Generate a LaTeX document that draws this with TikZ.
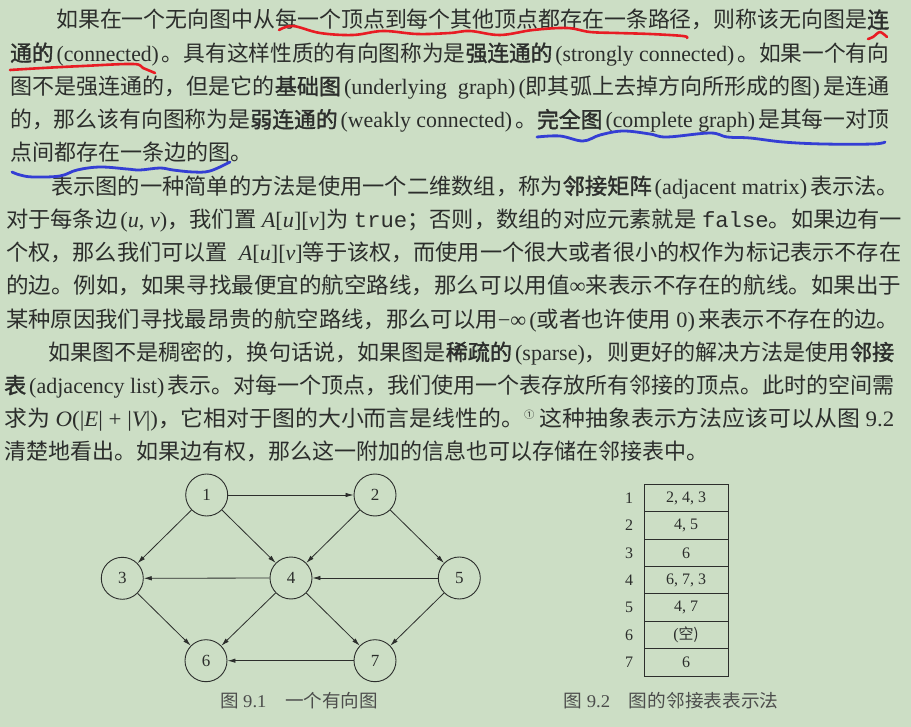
\documentclass[tikz,border=0pt]{standalone}
\usepackage{fontspec}
\usepackage{graphicx}
\usetikzlibrary{arrows.meta}
\setmainfont{Noto Sans CJK SC}
\newfontfamily\cjkbold{Noto Sans CJK SC}[FakeBold=1.6]
\newfontfamily\lat{Liberation Serif}
\newfontfamily\mono{Liberation Mono}
\definecolor{bg}{RGB}{204,222,197}
\definecolor{ink}{RGB}{44,46,44}
\definecolor{penred}{RGB}{232,28,36}
\definecolor{penblue}{RGB}{52,62,212}
\newcommand\La[1]{{\lat #1}}
\newcommand\Li[1]{{\lat\itshape #1}}
\newcommand\Bf[1]{{\cjkbold #1}}
\newcommand\Mo[1]{{\mono #1}}
\newcommand\gp{\hspace{3pt}}
\tikzset{
  txt/.style={anchor=base west, inner sep=0pt, font=\fontsize{22}{26}\selectfont, text=ink},
  vtx/.style={circle, draw=ink, line width=0.9pt, minimum size=42pt, inner sep=0pt, font=\lat\fontsize{17}{17}\selectfont, text=ink},
  edge/.style={-{Latex[length=8pt,width=4.5pt]}, line width=0.8pt, draw=ink},
  cell/.style={rectangle, draw=ink, line width=0.9pt, minimum width=84pt, minimum height=27.4pt, inner sep=0pt, font=\lat\fontsize{16}{16}\selectfont, text=ink},
  lab/.style={inner sep=0pt, font=\lat\fontsize{16}{16}\selectfont, text=ink},
  captext/.style={inner sep=0pt, font=\fontsize{18}{20}\selectfont, text=ink!85},
  redpen/.style={draw=penred, line width=2.6pt, line cap=round, line join=round},
  bluepen/.style={draw=penblue, line width=2.8pt, line cap=round, line join=round}
}
\begin{document}
\begin{tikzpicture}[x=1pt,y=-1pt]
\fill[bg] (0,0) rectangle (911,727);
\useasboundingbox (0,0) rectangle (911,727);

% paragraph 1
\node[txt] (l1) at (56,28) {\resizebox{833pt}{\height}{如果在一个无向图中从每一个顶点到每个其他顶点都存在一条路径，则称该无向图是\Bf{连}}};
\node[txt] (l2) at (10,61.2) {\resizebox{879pt}{\height}{\Bf{通的}\gp\La{(connected)}\gp。具有这样性质的有向图称为是\Bf{强连通的}\gp\La{(strongly connected)}\gp。如果一个有向}};
\node[txt] (l3) at (10,94.5) {\resizebox{879pt}{\height}{图不是强连通的，但是它的\Bf{基础图}\gp\La{(underlying\ \ graph)\gp(}即其弧上去掉方向所形成的图\La{)}\gp 是连通}};
\node[txt] (l4) at (10,127.7) {\resizebox{879pt}{\height}{的，那么该有向图称为是\Bf{弱连通的}\gp\La{(weakly connected)}\gp。\Bf{完全图}\gp\La{(complete graph)}\gp 是其每一对顶}};
\node[txt] (l5) at (10,160.9) {点间都存在一条边的图。};

% paragraph 2
\node[txt] (l6) at (51,194.2) {\resizebox{848pt}{\height}{表示图的一种简单的方法是使用一个二维数组，称为\Bf{邻接矩阵}\gp\La{(adjacent\ matrix)}\gp 表示法。}};
\node[txt] (l7) at (6,227.4) {\resizebox{896pt}{\height}{对于每条边\gp\La{(\Li{u}, \Li{v})}，我们置\La{\ \Li{A}[\Li{u}][\Li{v}]}为\La{\ }\Mo{true}；否则，数组的对应元素就是\La{\ }\Mo{false}。如果边有一}};
\node[txt] (l8) at (6,260.6) {\resizebox{895pt}{\height}{个权，那么我们可以置\La{\ \ \Li{A}[\Li{u}][\Li{v}]}等于该权，而使用一个很大或者很小的权作为标记表示不存在}};
\node[txt] (l9) at (6,293.8) {\resizebox{895pt}{\height}{的边。例如，如果寻找最便宜的航空路线，那么可以用值\La{∞}来表示不存在的航线。如果出于}};
\node[txt] (l10) at (6,327.1) {\resizebox{893pt}{\height}{某种原因我们寻找最昂贵的航空路线，那么可以用\La{−∞\gp(}或者也许使用\La{\ 0)}\gp 来表示不存在的边。}};

% paragraph 3
\node[txt] (l11) at (48,360.3) {\resizebox{846pt}{\height}{如果图不是稠密的，换句话说，如果图是\Bf{稀疏的}\gp\La{(sparse)}，则更好的解决方法是使用\Bf{邻接}}};
\node[txt] (l12) at (4,393.5) {\resizebox{890pt}{\height}{\Bf{表}\gp\La{(adjacency list)}\gp 表示。对每一个顶点，我们使用一个表存放所有邻接的顶点。此时的空间需}};
\node[txt] (l13) at (4,426.8) {\resizebox{890pt}{\height}{求为\La{\ \Li{O}(|\Li{E}|\ +\ |\Li{V}|)}，它相对于图的大小而言是线性的。\raisebox{8pt}{\fontsize{10}{10}\selectfont ①}\ 这种抽象表示方法应该可以从图\La{\ 9.2}}};
\node[txt] (l14) at (4,460) {清楚地看出。如果边有权，那么这一附加的信息也可以存储在邻接表中。};

% hand-drawn marks
\draw[redpen] plot[smooth, tension=0.6] coordinates {(279,30) (293,26) (320,33) (353,35) (383,31) (417,34) (450,33) (470,31) (500,35) (533,30) (567,28) (590,32) (617,33) (650,34) (683,36) (687,38)};
\draw[redpen] plot[smooth, tension=0.6] coordinates {(10,70) (43,68) (83,66) (133,64) (143,68) (155,73)};
\draw[redpen] plot[smooth, tension=0.5] coordinates {(868,39) (873,37) (880,32) (887,37)};
\draw[bluepen] plot[smooth, tension=0.6] coordinates {(537,137) (560,136) (583,141) (600,135) (623,131) (650,134) (667,137) (710,133) (727,137) (750,138) (783,142) (823,144) (873,144) (885,142)};
\draw[bluepen] plot[smooth, tension=0.6] coordinates {(12,172) (20,175) (33,177) (60,176) (77,170) (100,167) (127,169) (140,170) (160,168) (173,170) (193,172) (210,171) (230,162)};

% graph (figure 9.1)
\node[vtx] (n1) at (206.7,495) {1};
\node[vtx] (n2) at (375,495) {2};
\node[vtx] (n3) at (122.3,578.3) {3};
\node[vtx] (n4) at (291,578) {4};
\node[vtx] (n5) at (459.3,578) {5};
\node[vtx] (n6) at (206,660.7) {6};
\node[vtx] (n7) at (375,660.7) {7};
\draw[edge] (n1) -- (n2);
\draw[edge] (n1) -- (n3);
\draw[edge] (n1) -- (n4);
\draw[edge] (n2) -- (n4);
\draw[edge] (n2) -- (n5);
\draw[edge] (n4) -- (n3);
\draw[edge] (n5) -- (n4);
\draw[edge] (n3) -- (n6);
\draw[edge] (n4) -- (n6);
\draw[edge] (n4) -- (n7);
\draw[edge] (n5) -- (n7);
\draw[edge] (n7) -- (n6);
\node[captext] (cap1) at (299,701) {\resizebox{158pt}{\height}{图\La{\ 9.1}\quad 一个有向图}};

% adjacency list (figure 9.2)
\node[cell] (r1) at (686,498) {2, 4, 3};
\node[cell] (r2) at (686,525.4) {4, 5};
\node[cell] (r3) at (686,552.8) {6};
\node[cell] (r4) at (686,580.2) {6, 7, 3};
\node[cell] (r5) at (686,607.6) {4, 7};
\node[cell] (r6) at (686,635) {(\fontspec{Noto Sans CJK SC}\fontsize{15}{15}\selectfont 空)};
\node[cell] (r7) at (686,662.4) {6};
\node[lab] (k1) at (629,498) {1};
\node[lab] (k2) at (629,525.4) {2};
\node[lab] (k3) at (629,552.8) {3};
\node[lab] (k4) at (629,580.2) {4};
\node[lab] (k5) at (629,607.6) {5};
\node[lab] (k6) at (629,635) {6};
\node[lab] (k7) at (629,662.4) {7};
\node[captext] (cap2) at (671,701) {\resizebox{215pt}{\height}{图\La{\ 9.2}\quad 图的邻接表表示法}};
\end{tikzpicture}
\end{document}
